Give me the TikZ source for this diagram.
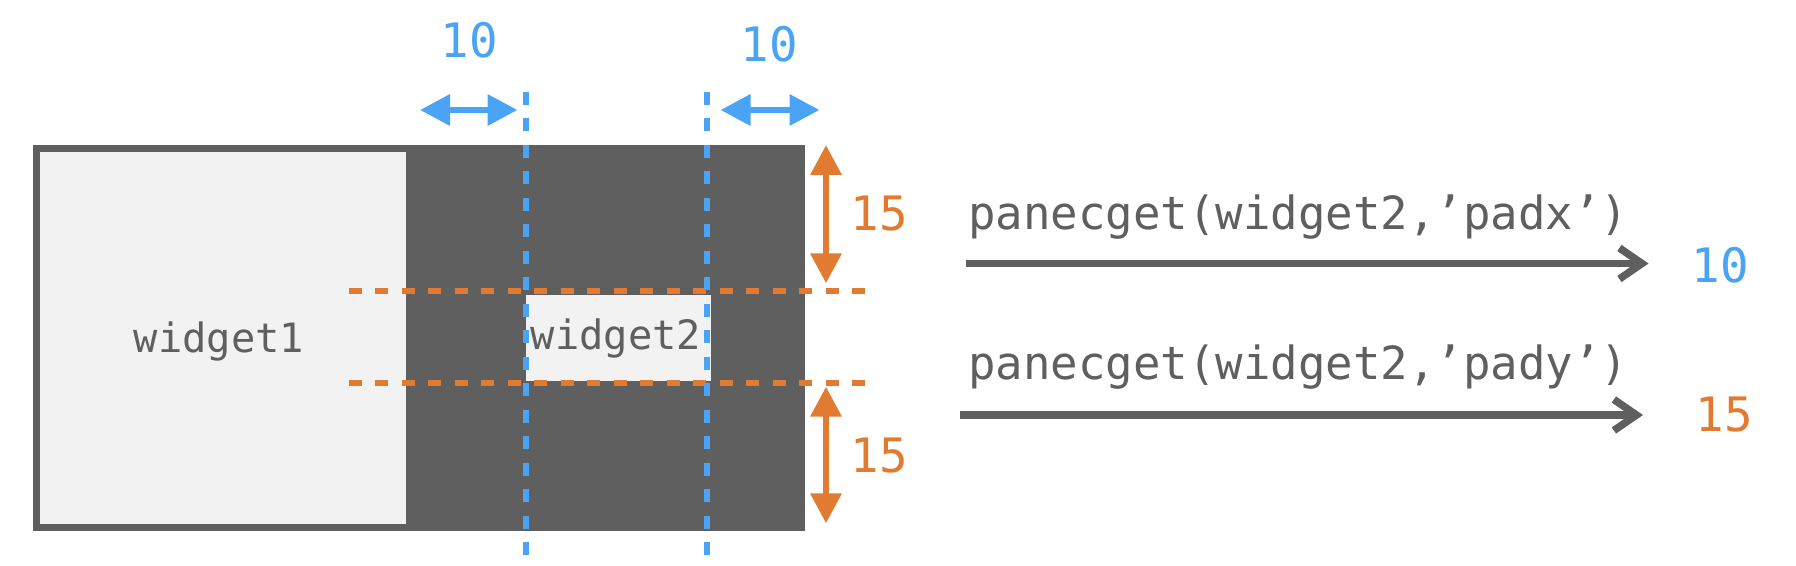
\documentclass[tikz,border=0pt]{standalone}
\usepackage{fontspec}
\setmonofont{DejaVu Sans Mono}
\usetikzlibrary{arrows.meta}
\definecolor{framegray}{HTML}{5F5F5F}
\definecolor{widgetfill}{HTML}{F2F2F2}
\definecolor{padblue}{HTML}{4AA3F5}
\definecolor{padorange}{HTML}{E27B32}
\tikzset{
  padline/.style={line width=0.12cm, dash pattern=on 0.26cm off 0.27cm},
  dimarrow/.style={line width=0.13cm, >={Triangle[length=0.6cm,width=0.6cm]}, <->},
  callarrow/.style={line width=0.15cm, framegray, -{Straight Barb[length=0.45cm,width=0.62cm]}},
  widgettext/.style={font=\ttfamily\fontsize{23}{28}\selectfont, text=framegray, inner sep=0pt, anchor=base},
  codetext/.style={font=\ttfamily\fontsize{26}{31}\selectfont, text=framegray, inner sep=0pt, anchor=base west},
  numtext/.style={font=\ttfamily\fontsize{27}{32}\selectfont, inner sep=0pt},
}
\begin{document}
\begin{tikzpicture}
\useasboundingbox (0, 0) rectangle (35.92, 11.32);

% Pane frame
\fill[framegray] (0.654, 0.704) rectangle (16.10, 8.41);
% widget1
\fill[widgetfill] (0.80, 0.84) rectangle (8.12, 8.27);
\node[widgettext] (wone) at (4.38, 4.26) {widget1};
% widget2
\fill[widgetfill] (10.51, 3.70) rectangle (14.21, 5.42);
\node[widgettext] (wtwo) at (12.32, 4.32) {widget2};

% Pady guides
\draw[padline, padorange] (6.97, 5.49) -- (17.31, 5.49);
\draw[padline, padorange] (6.97, 3.65) -- (17.31, 3.65);
% Padx guides
\draw[padline, padblue] (10.52, 9.48) -- (10.52, 0.20);
\draw[padline, padblue] (14.14, 9.48) -- (14.14, 0.20);

% Padx arrows
\coordinate (padxla) at (8.40, 9.12);
\coordinate (padxlb) at (10.35, 9.12);
\coordinate (padxra) at (14.41, 9.12);
\coordinate (padxrb) at (16.39, 9.12);
\draw[dimarrow, padblue] (padxla) -- (padxlb);
\draw[dimarrow, padblue] (padxra) -- (padxrb);
\node[numtext, text=padblue] (padxl) at (9.38, 10.51) {10};
\node[numtext, text=padblue] (padxr) at (15.38, 10.43) {10};

% Pady arrows
\coordinate (padyta) at (16.52, 8.42);
\coordinate (padytb) at (16.52, 5.654);
\coordinate (padyba) at (16.52, 3.586);
\coordinate (padybb) at (16.52, 0.854);
\draw[dimarrow, padorange] (padyta) -- (padytb);
\draw[dimarrow, padorange] (padyba) -- (padybb);
\node[numtext, text=padorange] (padyt) at (17.58, 7.04) {15};
\node[numtext, text=padorange] (padyb) at (17.58, 2.21) {15};

% Queries
\node[codetext] (getx) at (19.36, 6.72) {panecget(widget2,’padx’)};
\coordinate (getxfrom) at (19.31, 6.05);
\coordinate (getxto) at (32.97, 6.05);
\draw[callarrow] (getxfrom) -- (getxto);
\node[numtext, text=padblue] (resx) at (34.40, 6.02) {10};

\node[codetext] (gety) at (19.36, 3.72) {panecget(widget2,’pady’)};
\coordinate (getyfrom) at (19.20, 3.02);
\coordinate (getyto) at (32.86, 3.02);
\draw[callarrow] (getyfrom) -- (getyto);
\node[numtext, text=padorange] (resy) at (34.48, 3.02) {15};

\end{tikzpicture}
\end{document}
